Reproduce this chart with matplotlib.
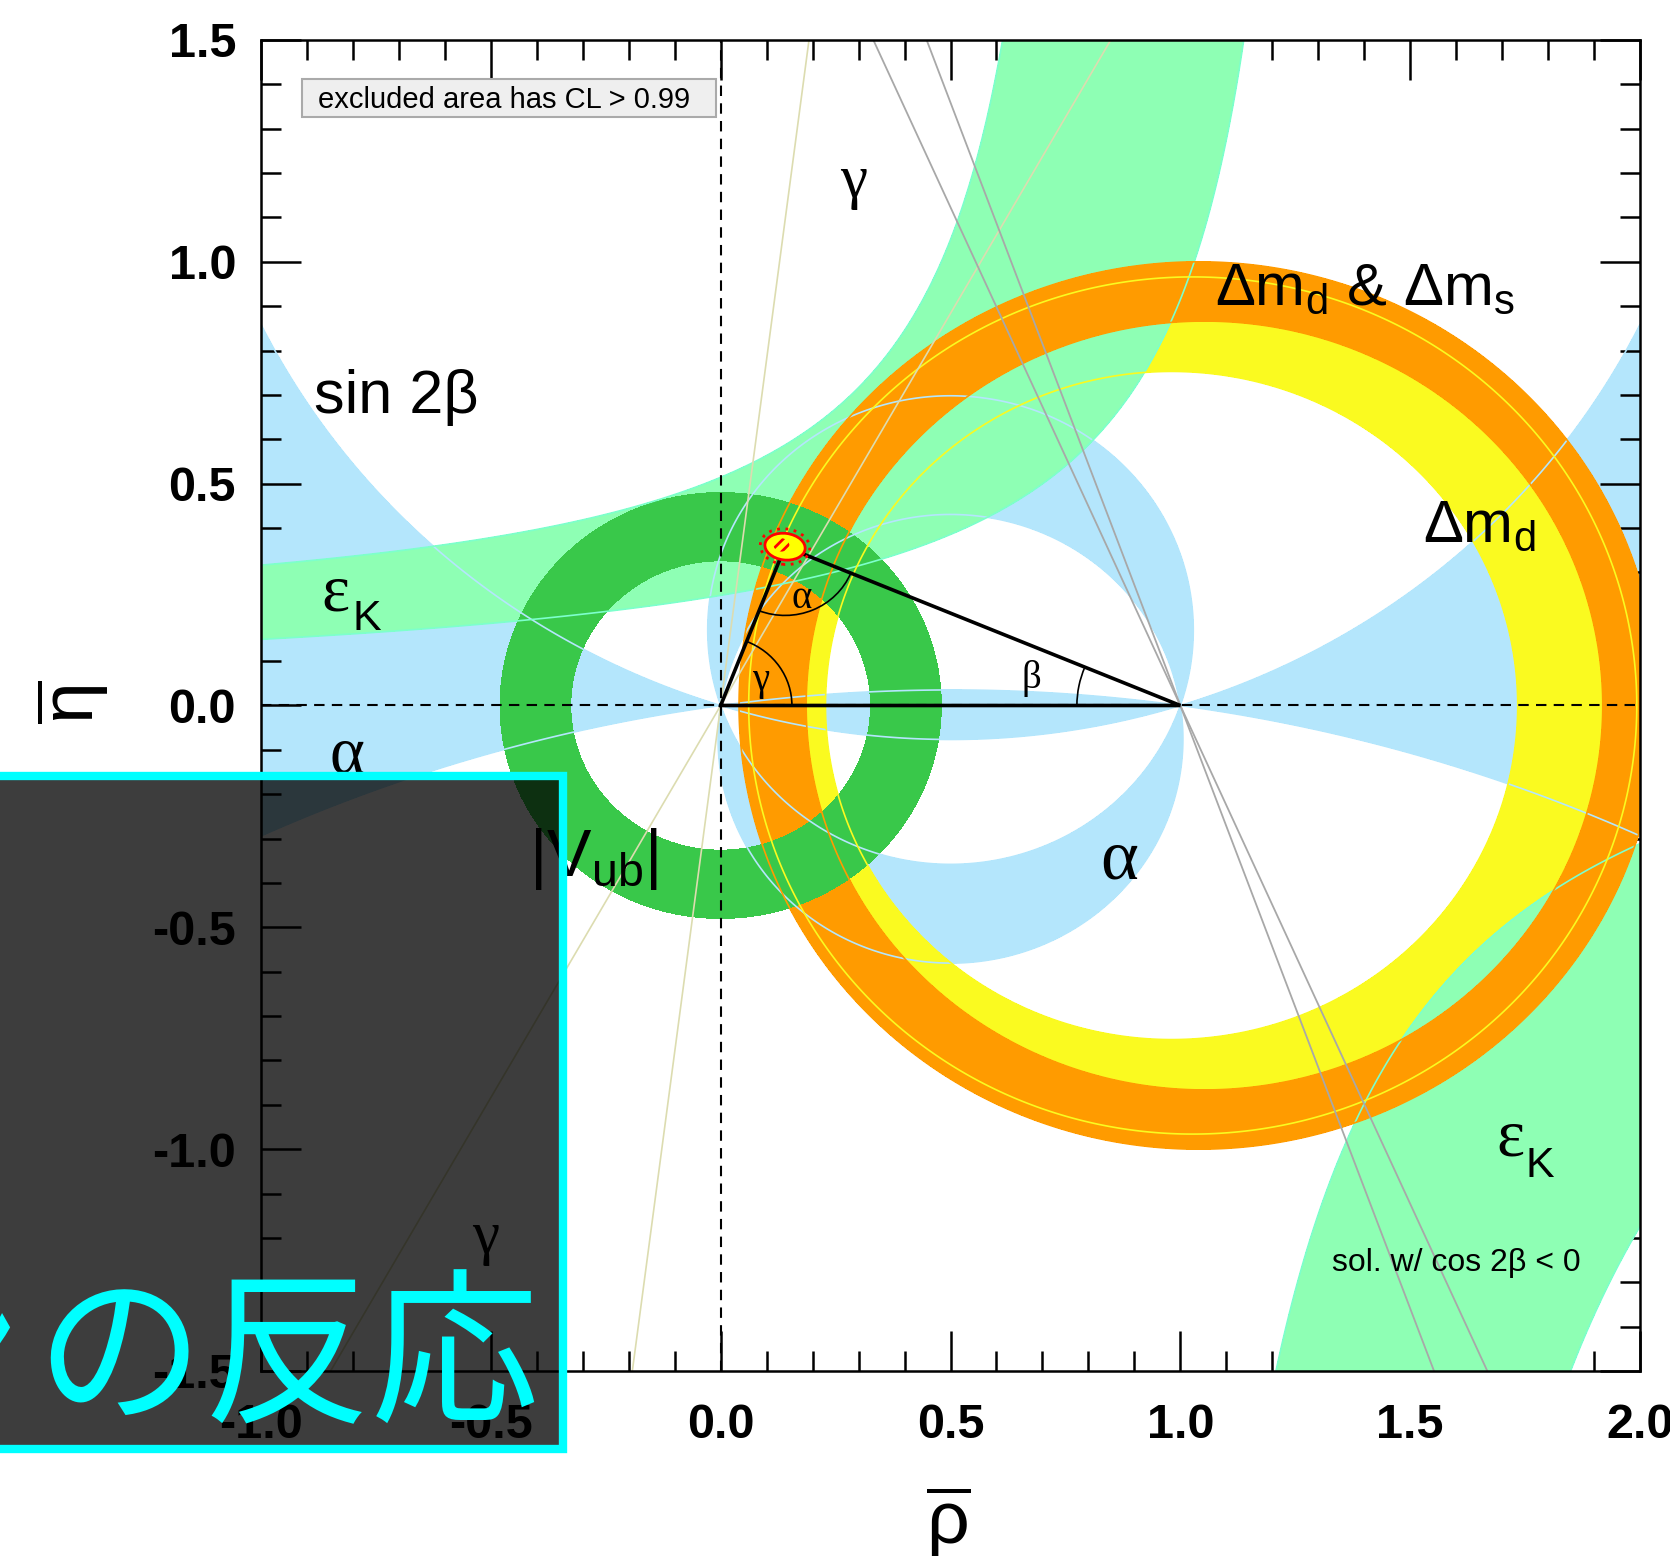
import numpy as np
import matplotlib
matplotlib.use("Agg")
import matplotlib.pyplot as plt
from matplotlib.patches import Ellipse, Arc, Rectangle
from matplotlib.ticker import MultipleLocator, FixedLocator, FixedFormatter

plt.rcParams['font.family'] = ['Liberation Sans', 'DejaVu Sans']
plt.rcParams['mathtext.fontset'] = 'custom'
plt.rcParams['mathtext.rm'] = 'Liberation Sans'
plt.rcParams['mathtext.it'] = 'Liberation Sans:italic'
plt.rcParams['mathtext.bf'] = 'Liberation Sans:bold'
plt.rcParams['axes.unicode_minus'] = False

# ---- axes ----
rho_range = [-1.0, 2.0]
eta_range = [-1.5, 1.5]
rho_ticks = [-1.0, -0.5, 0.0, 0.5, 1.0, 1.5, 2.0]
rho_tick_labels = ['-1.0', '-0.5', '0.0', '0.5', '1.0', '1.5', '2.0']
eta_ticks = [-1.5, -1.0, -0.5, 0.0, 0.5, 1.0, 1.5]
eta_tick_labels = ['-1.5', '-1.0', '-0.5', '0.0', '0.5', '1.0', '1.5']

# ---- fitted apex of the unitarity triangle ----
apex_rho = 0.14
apex_eta = 0.358

# ---- alpha: circles through (0,0) and (1,0), eta of each centre ----
alpha_centre_eta = [1.594, -3.55, 0.17, -0.075]

# ---- Delta m_d ring (inner, outer): centre rho and radius ----
dmd_centre = [0.981, 1.027]
dmd_radius = [0.753, 0.966]
# ---- Delta m_d & Delta m_s ring ----
dmds_centre = [1.0525, 1.04]
dmds_radius = [0.8665, 1.0]

# ---- |Vub| ring around the origin ----
vub_radius = [0.326, 0.48]

# ---- epsilon_K edges: (eta - b)(a - rho) = k, stored as [a, b, k] ----
epsk_upper_inner = [1.35, 0.015, 0.315]
epsk_upper_outer = [0.84, 0.15, 0.306]
epsk_lower_inner = [0.85, 0.226, 0.618]
epsk_lower_outer = [1.2, 0.226, 1.12]

# ---- straight constraints (angles in degrees) ----
gamma_lines = [60.5, 82.7]          # through (0,0)
beta_alt_lines = [66.0, 69.8]       # sin 2beta, cos 2beta < 0, through (1,0)

c_blue = '#b4e6fc'
c_lgreen = '#8effb4'
c_lgreen_line = '#7dffcc'
c_orange = '#ff9b00'
c_yellow = '#fafa20'
c_dgreen = '#39c84a'

W, H = 1670, 1556
fig = plt.figure(figsize=(W / 100, H / 100), dpi=100)
ax = fig.add_axes([261 / W, 1 - 1371 / H, (1640 - 261) / W, (1371 - 40) / H])
ax.set_xlim(rho_range)
ax.set_ylim(eta_range)

# ---- fields on a grid (positive inside each region) ----
rr = np.linspace(rho_range[0], rho_range[1], 1801)
ee = np.linspace(eta_range[0], eta_range[1], 1801)
R, E = np.meshgrid(rr, ee)


def disc(c_rho, c_eta, r):
    return r - np.hypot(R - c_rho, E - c_eta)


def alpha_disc(c):
    return disc(0.5, c, np.hypot(0.5, c))


sA, sB, sC, sD = [alpha_disc(c) for c in alpha_centre_eta]
f_blue = np.maximum(sA * sB, -sC * sD)

f_yellow = np.minimum(disc(dmd_centre[1], 0, dmd_radius[1]),
                      -disc(dmd_centre[0], 0, dmd_radius[0]))
f_orange = np.minimum(disc(dmds_centre[1], 0, dmds_radius[1]),
                      -disc(dmds_centre[0], 0, dmds_radius[0]))
d0 = np.hypot(R, E)
f_dgreen = np.minimum(vub_radius[1] - d0, d0 - vub_radius[0])

a, b, k = epsk_upper_inner
g_in = np.minimum((E - b) * (a - R) - k, E - b)
a, b, k = epsk_upper_outer
g_out = np.maximum(k - (E - b) * (a - R), b - E)
a, c, k = epsk_lower_inner
h_in = np.minimum((c - E) * (R - a) - k, c - E)
a, c, k = epsk_lower_outer
h_out = np.maximum(k - (c - E) * (R - a), E - c)
f_lgreen = np.maximum(np.minimum(g_in, g_out), np.minimum(h_in, h_out))

TOP = 1e9
ax.contourf(R, E, f_blue, levels=[0, TOP], colors=[c_blue], zorder=1)
ax.contourf(R, E, f_yellow, levels=[0, TOP], colors=[c_yellow], zorder=2)
ax.contourf(R, E, f_lgreen, levels=[0, TOP], colors=[c_lgreen], zorder=3)
ax.contourf(R, E, f_orange, levels=[0, TOP], colors=[c_orange], zorder=4)
ax.contourf(R, E, f_dgreen, levels=[0, TOP], colors=[c_dgreen], zorder=5)

# contour edges drawn over every filled area
ax.contour(R, E, f_blue, levels=[0], colors=[c_blue], linewidths=1.2, zorder=6)
ax.contour(R, E, f_lgreen, levels=[0], colors=[c_lgreen_line], linewidths=1.2, zorder=6)
ax.contour(R, E, f_yellow, levels=[0], colors=[c_yellow], linewidths=1.2, zorder=6)
ax.contour(R, E, f_orange, levels=[0], colors=[c_orange], linewidths=1.2, zorder=6)

# ---- straight-line constraints ----
t = np.array([-4.0, 4.0])
for ang in gamma_lines:
    th = np.radians(ang)
    ax.plot(t * np.cos(th), t * np.sin(th), color='#dcdcb0', lw=1.2, zorder=7)
for ang in beta_alt_lines:
    th = np.radians(ang)
    ax.plot(1 - t * np.cos(th), t * np.sin(th), color='#a8a8a8', lw=1.3, zorder=7)

ax.axhline(0, color='black', lw=1.5, ls=(0, (5, 3.5)), zorder=8)
ax.axvline(0, color='black', lw=1.5, ls=(0, (5, 3.5)), zorder=8)

# ---- unitarity triangle ----
ax.plot([0, apex_rho, 1, 0], [0, apex_eta, 0, 0], color='black', lw=2.6,
        solid_joinstyle='miter', zorder=9)
gam = np.degrees(np.arctan2(apex_eta, apex_rho))
bet = np.degrees(np.arctan2(apex_eta, 1 - apex_rho))
ax.add_patch(Arc((0, 0), 0.31, 0.31, theta1=0, theta2=gam, color='black', lw=1.2, zorder=9))
ax.add_patch(Arc((apex_rho, apex_eta), 0.31, 0.31, theta1=180 + gam, theta2=360 - bet,
                 color='black', lw=1.2, zorder=9))
ax.add_patch(Arc((1, 0), 0.45, 0.45, theta1=180 - bet, theta2=180, color='black', lw=1.2, zorder=9))

ax.add_patch(Ellipse((apex_rho, apex_eta), 0.108, 0.08, angle=-8, facecolor='none',
                     edgecolor='red', lw=2.0, ls=(0, (1, 2)), zorder=10))
ax.add_patch(Ellipse((apex_rho, apex_eta), 0.088, 0.060, angle=-8, facecolor='#ffff00',
                     edgecolor='red', lw=2.0, zorder=10))
plt.rcParams['hatch.linewidth'] = 2.0
ax.add_patch(Ellipse((apex_rho - 0.008, apex_eta + 0.004), 0.035, 0.03, angle=-8,
                     facecolor='none', edgecolor='red', lw=0, hatch='///', zorder=10))

# ---- labels ----
serif = ['Liberation Serif', 'DejaVu Serif']
ax.text(0.0674, 0.035, 'γ', family=serif, fontsize=28, zorder=11)
ax.text(0.154, 0.22, 'α', family=serif, fontsize=28, zorder=11)
ax.text(0.6547, 0.040, 'β', family=serif, fontsize=28, zorder=11)

ax.text(-0.885, 0.659, 'sin 2β', fontsize=44, zorder=11)
ax.text(-0.868, 0.215, 'ε', family=serif, fontsize=48, zorder=11)
ax.text(-0.802, 0.170, 'K', fontsize=31, zorder=11)
ax.text(1.687, -1.015, 'ε', family=serif, fontsize=48, zorder=11)
ax.text(1.750, -1.063, 'K', fontsize=31, zorder=11)
ax.text(-0.850, -0.152, 'α', family=serif, fontsize=48, zorder=11)
ax.text(0.826, -0.389, 'α', family=serif, fontsize=52, zorder=11)
ax.text(0.2595, 1.146, 'γ', family=serif, fontsize=44, zorder=11)
ax.text(-0.541, -1.234, 'γ', family=serif, fontsize=44, zorder=11)
ax.text(-0.418, -0.384, r'$\mathregular{|V_{ub}|}$', fontsize=48, zorder=11)
ax.text(1.075, 0.903, r'$\mathregular{Δm_d}$ & $\mathregular{Δm_s}$', fontsize=43, zorder=11)
ax.text(1.528, 0.369, r'$\mathregular{Δm_d}$', fontsize=43, zorder=11)

ax.add_patch(Rectangle((-0.911, 1.3265), 0.901, 0.0855, facecolor='#efefef',
                       edgecolor='#aaaaaa', lw=1.5, zorder=11))
ax.text(-0.875, 1.347, 'excluded area has CL > 0.99', fontsize=21, zorder=12)
ax.text(1.329, -1.274, 'sol. w/ cos 2β < 0', fontsize=23, zorder=12)

# ---- ticks and frame ----
ax.xaxis.set_major_locator(FixedLocator(rho_ticks))
ax.xaxis.set_major_formatter(FixedFormatter(rho_tick_labels))
ax.yaxis.set_major_locator(FixedLocator(eta_ticks))
ax.yaxis.set_major_formatter(FixedFormatter(eta_tick_labels))
ax.xaxis.set_minor_locator(MultipleLocator(0.1))
ax.yaxis.set_minor_locator(MultipleLocator(0.1))
ax.tick_params(which='both', direction='in', top=True, right=True, width=1.8, color='black')
ax.tick_params(which='major', length=28.8)
ax.tick_params(which='minor', length=14.4)
ax.tick_params(axis='x', which='major', pad=23, labelsize=35)
ax.tick_params(axis='y', which='major', pad=18, labelsize=35)
for lab in ax.get_xticklabels() + ax.get_yticklabels():
    lab.set_fontweight('bold')
for sp in ax.spines.values():
    sp.set_linewidth(1.8)
    sp.set_zorder(12)

fig.text(948 / W, 1 - 1522 / H, r'$\overline{\mathrm{ρ}}$', fontsize=54, ha='center', va='center')
fig.text(72 / W, 1 - 702 / H, r'$\overline{\mathrm{η}}$', fontsize=54, rotation=90,
         ha='center', va='center')

# ---- caption panel ----
x0, x1, y_top, y_bot = -12, 563, 776, 1449
fig.add_artist(Rectangle((x0 / W, 1 - y_bot / H), (x1 - x0) / W, (y_bot - y_top) / H,
                         transform=fig.transFigure, facecolor='black', alpha=0.76,
                         edgecolor='none', zorder=20))
fig.add_artist(Rectangle((x0 / W, 1 - y_bot / H), (x1 - x0) / W, (y_bot - y_top) / H,
                         transform=fig.transFigure, facecolor='none',
                         edgecolor='#00ffff', lw=6, zorder=21))
cjk = ['Noto Sans CJK JP', 'DejaVu Sans']
fig.text(-146 / W, 1 - 1410 / H, 'ン', color='#00ffff', fontsize=121,
         family=cjk, ha='left', va='baseline', zorder=22)
fig.text(35 / W, 1 - 1410 / H, 'の反応', color='#00ffff', fontsize=121,
         family=cjk, ha='left', va='baseline', zorder=22)

fig.savefig('out.png', dpi=100)
